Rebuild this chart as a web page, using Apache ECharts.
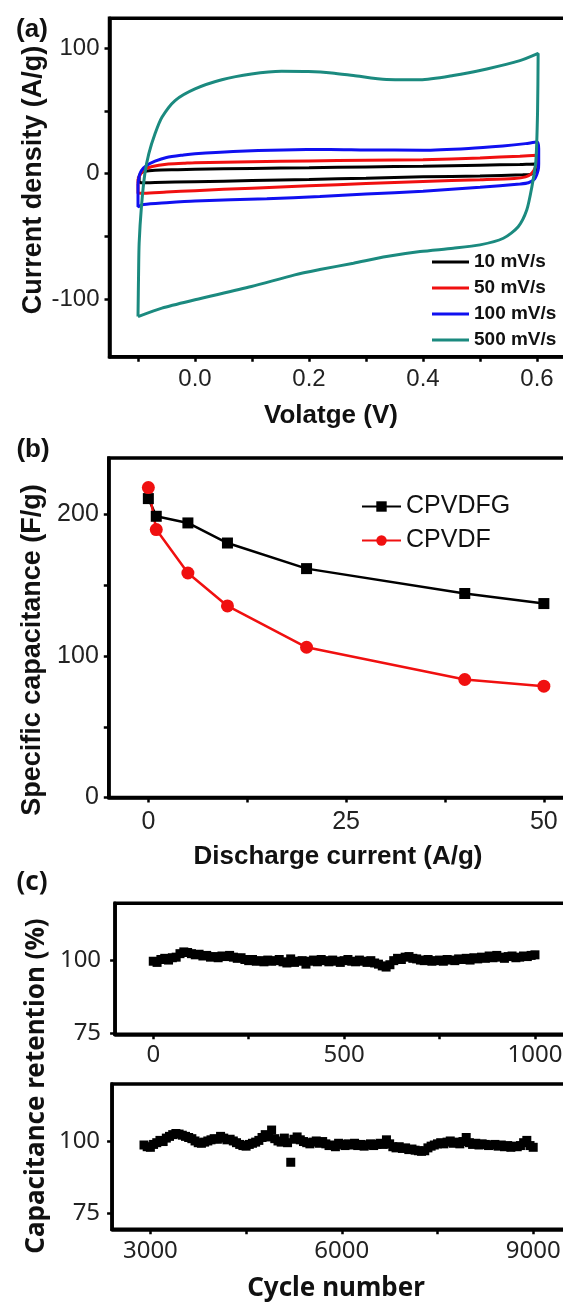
<!DOCTYPE html>
<html><head><meta charset="utf-8">
<script src="https://cdn.jsdelivr.net/npm/echarts@6/dist/echarts.min.js"></script>
<style>html,body{margin:0;padding:0;background:#fff}#c{width:563px;height:1304px}</style>
</head><body><div id="c"></div>
<script>
// ---------- Panel (a): CV curves [voltage (V), current density (A/g)] ----------
const cvNames = ['10 mV/s', '50 mV/s', '100 mV/s', '500 mV/s'];
const cv10 = [[-0.098,-2],[-0.095,0.5],[-0.088,2.0],[-0.07,2.8],[-0.03,3.2],[0.0,3.5],[0.1,4.2],[0.2,4.8],[0.3,5.4],[0.4,6.0],[0.5,6.8],[0.57,7.4],[0.598,7.8],
  [0.6,5.5],[0.598,2.0],[0.59,-0.3],[0.575,-0.9],[0.5,-1.8],[0.4,-2.5],[0.3,-3.6],[0.2,-4.6],[0.1,-5.5],[0.0,-6.4],[-0.07,-7.0],[-0.094,-7.3],[-0.098,-6],[-0.098,-2]];
const cv50 = [[-0.1,-4],[-0.095,0],[-0.088,3.5],[-0.075,5.8],[-0.05,7.6],[-0.02,8.3],[0.0,8.8],[0.1,9.5],[0.2,10.2],[0.3,10.8],[0.4,11.2],[0.5,12.6],[0.57,14.0],[0.6,14.8],
  [0.6,12],[0.598,6],[0.59,0],[0.58,-2.5],[0.56,-3.8],[0.5,-4.8],[0.4,-6.2],[0.3,-7.9],[0.2,-9.6],[0.1,-11.5],[0.0,-13.5],[-0.05,-14.6],[-0.09,-15.6],[-0.1,-15.5],[-0.1,-4]];
const cv100 = [[-0.1,-8],[-0.098,-2],[-0.094,2.5],[-0.085,6.5],[-0.07,10],[-0.05,13],[-0.02,15],[0.0,16],[0.067,17.8],[0.155,19.0],[0.237,19.4],[0.3,19.0],[0.4,18.8],[0.48,20.2],[0.54,22.2],[0.58,24.0],[0.6,25.3],
  [0.603,20],[0.603,8],[0.602,2.8],[0.596,-4],[0.585,-7.2],[0.57,-8.2],[0.5,-10.8],[0.4,-14.0],[0.3,-16.2],[0.219,-18.2],[0.126,-19.9],[0.0,-21.8],[-0.05,-23.2],[-0.09,-24.6],[-0.1,-26.4],[-0.1,-8]];
const cv500 = [[-0.1,-114],[-0.099,-80],[-0.098,-55.5],[-0.094,-26.4],[-0.088,0],[-0.081,16],[-0.07,32],[-0.058,45],[-0.035,58.4],[0,67.7],[0.047,75],[0.099,79.6],[0.152,81.7],[0.199,81.5],[0.24,80.4],[0.278,78.3],[0.336,75.1],[0.395,74.9],[0.453,78.3],[0.512,83.6],[0.57,90.2],[0.602,96],
  [0.601,50],[0.598,10],[0.591,-10.5],[0.582,-29],[0.567,-42.3],[0.541,-51.5],[0.5,-56.8],[0.453,-59.5],[0.395,-62.1],[0.336,-66.1],[0.278,-71.4],[0.219,-76.5],[0.175,-80.7],[0.099,-90],[0.0,-100.6],[-0.058,-107.2],[-0.1,-114]];
const cvColors = ['#000000', '#f01010', '#1010f0', '#1b8a7f'];
const aXTicks = [-0.1, 0, 0.1, 0.2, 0.3, 0.4, 0.5, 0.6];
const aXLabels = [0, 0.2, 0.4, 0.6];
const aYTicks = [-100, -50, 0, 50, 100];
const aYLabels = [-100, 0, 100];

// ---------- Panel (b): rate capability ----------
const rateCurrent = [0, 1, 5, 10, 20, 40, 50];
const capCPVDFG = [211.3, 198.8, 194.1, 179.9, 161.8, 144.2, 137.1];
const capCPVDF  = [219.1, 189.4, 158.7, 135.4, 106.2, 83.4, 78.7];
const bXTicks = [0, 12.5, 25, 37.5, 50];
const bXLabels = [0, 25, 50];
const bYTicks = [0, 50, 100, 150, 200];
const bYLabels = [0, 100, 200];

// ---------- Panel (c): cycling stability ----------
const topCycleStart = 0, topCycleStep = 10;
const retTop = [
  99.6, 99.2, 100.2, 100.6, 100.0, 100.8, 101.0, 102.2, 102.8, 102.6,
  102.2, 101.8, 102.0, 101.4, 101.6, 101.0, 101.2, 100.8, 101.4, 101.2,
  101.6, 101.0, 100.6, 100.8, 100.2, 99.8, 100.2, 99.6, 99.8, 99.4,
  100.0, 99.6, 99.8, 100.2, 99.4, 99.0, 100.4, 99.2, 99.6, 99.8,
  98.6, 99.6, 100.0, 99.4, 100.2, 99.8, 99.4, 100.0, 99.6, 99.2,
  99.8, 100.2, 99.6, 99.4, 100.0, 99.6, 99.2, 99.8, 99.0, 98.6,
  98.0, 97.6, 98.4, 99.8, 100.6, 100.2, 101.0, 101.2, 100.6, 100.4,
  100.0, 99.8, 100.2, 99.6, 99.8, 100.0, 99.6, 100.2, 100.0, 99.8,
  100.4, 100.2, 100.6, 100.0, 100.8, 100.4, 101.0, 100.6, 101.4, 100.8,
  101.6, 101.0, 100.6, 101.2, 101.4, 100.8, 101.0, 101.4, 101.2, 101.6,
  101.8];
const botCycleStart = 2900, botCycleStep = 50;
const retBottom = [
  98.8, 98.2, 98.0, 99.0, 99.6, 100.4, 100.0, 101.2, 101.8, 102.4,
  102.8, 102.6, 102.2, 101.8, 101.4, 101.0, 100.2, 99.6, 99.4, 99.8,
  100.2, 100.6, 101.0, 100.8, 101.8, 101.2, 100.6, 100.8, 100.2, 99.6,
  99.0, 98.6, 98.4, 99.0, 99.4, 99.8, 100.4, 101.4, 102.4, 101.6,
  104.0, 101.0, 100.2, 99.8, 101.2, 99.6, 92.8, 100.8, 101.6, 100.6,
  100.0, 99.6, 99.2, 99.8, 100.2, 99.4, 100.0, 99.2, 98.6, 98.8,
  98.2, 99.4, 99.0, 98.6, 99.2, 98.8, 99.4, 98.6, 99.0, 98.4,
  98.8, 99.2, 98.6, 99.0, 99.4, 99.0, 100.6, 99.2, 98.2, 97.8,
  98.2, 97.6, 97.8, 97.2, 97.4, 97.0, 96.8, 96.6, 96.8, 97.8,
  98.4, 98.8, 99.2, 99.6, 99.2, 99.8, 100.2, 99.4, 99.8, 99.2,
  100.0, 101.4, 99.6, 99.0, 99.4, 98.8, 99.2, 99.0, 98.6, 98.8,
  99.0, 98.4, 98.8, 98.2, 98.6, 98.0, 98.4, 98.2, 98.6, 99.6,
  100.4, 98.6, 98.0];
const cTopXTicks = [0, 250, 500, 750, 1000];
const cTopXLabels = [0, 500, 1000];
const cBotXTicks = [3000, 4500, 6000, 7500, 9000];
const cBotXLabels = [3000, 6000, 9000];
const cYTicks = [75, 100];

// ---------- build ----------
const ARIAL = 'Liberation Sans, Arial, sans-serif';
const NOTO = 'Noto Sans, Open Sans, sans-serif';
const LW = 3.5;

function mkAxis(opts) {
  const { gridIndex, min, max, ticks, labels, pos, font, size, margin, fmt } = opts;
  return {
    type: 'value', gridIndex, min, max, position: pos,
    splitLine: { show: false },
    axisLine: { show: true, onZero: false, lineStyle: { color: '#000', width: LW } },
    axisTick: { show: true, inside: false, length: 5, customValues: ticks, lineStyle: { color: '#000', width: 2.5 } },
    axisLabel: { show: true, customValues: labels, margin, fontFamily: font, fontSize: size, color: '#222',
      formatter: fmt || (v => String(v)) },
    minorTick: { show: false }
  };
}

const grids = [
  { left: 109.5, top: 18.3, width: 456, height: 338.4 },
  { left: 108.8, top: 458, width: 458.8, height: 339.5 },
  { left: 115.1, top: 903.3, width: 450.4, height: 131 },
  { left: 112.1, top: 1084, width: 453, height: 145.3 }
].map(g => Object.assign(g, { show: true, borderColor: '#000', borderWidth: LW, backgroundColor: 'transparent', containLabel: false, outerBoundsMode: 'none' }));

const xAxes = [
  mkAxis({ gridIndex: 0, min: -0.15, max: 0.65, ticks: aXTicks, labels: aXLabels, pos: 'bottom', font: ARIAL, size: 24, margin: 11, fmt: v => v.toFixed(1) }),
  mkAxis({ gridIndex: 1, min: -5, max: 53, ticks: bXTicks, labels: bXLabels, pos: 'bottom', font: ARIAL, size: 25, margin: 12 }),
  mkAxis({ gridIndex: 2, min: -100, max: 1080, ticks: cTopXTicks, labels: cTopXLabels, pos: 'bottom', font: NOTO, size: 24, margin: 9 }),
  mkAxis({ gridIndex: 3, min: 2400, max: 9500, ticks: cBotXTicks, labels: cBotXLabels, pos: 'bottom', font: NOTO, size: 24, margin: 10 })
];
const yAxes = [
  mkAxis({ gridIndex: 0, min: -146, max: 124, ticks: aYTicks, labels: aYLabels, pos: 'left', font: ARIAL, size: 24, margin: 10 }),
  mkAxis({ gridIndex: 1, min: 0, max: 240, ticks: bYTicks, labels: bYLabels, pos: 'left', font: ARIAL, size: 25, margin: 10 }),
  mkAxis({ gridIndex: 2, min: 74.5, max: 119.5, ticks: cYTicks, labels: cYTicks, pos: 'left', font: NOTO, size: 24, margin: 14 }),
  mkAxis({ gridIndex: 3, min: 69.5, max: 120, ticks: cYTicks, labels: cYTicks, pos: 'left', font: NOTO, size: 24, margin: 12 })
];

const cvData = [cv10, cv50, cv100, cv500];
const series = [];
cvData.forEach((d, i) => series.push({
  name: cvNames[i], type: 'line', xAxisIndex: 0, yAxisIndex: 0, data: d,
  showSymbol: false, symbol: 'none', smooth: 0.25, clip: true,
  lineStyle: { color: cvColors[i], width: 3 }, itemStyle: { color: cvColors[i] },
  z: i === 3 ? 3 : 2
}));
series.push({
  name: 'CPVDFG', type: 'line', xAxisIndex: 1, yAxisIndex: 1,
  data: rateCurrent.map((x, i) => [x, capCPVDFG[i]]),
  symbol: 'rect', symbolSize: 11, lineStyle: { color: '#000', width: 2.5 }, itemStyle: { color: '#000' }
});
series.push({
  name: 'CPVDF', type: 'line', xAxisIndex: 1, yAxisIndex: 1,
  data: rateCurrent.map((x, i) => [x, capCPVDF[i]]),
  symbol: 'circle', symbolSize: 13, lineStyle: { color: '#f01010', width: 2.5 }, itemStyle: { color: '#f01010' }
});
series.push({
  name: 'retTop', type: 'scatter', xAxisIndex: 2, yAxisIndex: 2,
  data: retTop.map((v, i) => [topCycleStart + i * topCycleStep, v]),
  symbol: 'rect', symbolSize: 9, itemStyle: { color: '#000', opacity: 1 }
});
series.push({
  name: 'retBottom', type: 'scatter', xAxisIndex: 3, yAxisIndex: 3,
  data: retBottom.map((v, i) => [botCycleStart + i * botCycleStep, v]),
  symbol: 'rect', symbolSize: 9, itemStyle: { color: '#000', opacity: 1 }
});

function txt(text, x, y, font, size, rot) {
  return { type: 'text', x, y, rotation: rot || 0, z: 100,
    style: { text, fontFamily: font, fontSize: size, fontWeight: 'bold', fill: '#111', align: 'center', verticalAlign: 'middle' } };
}

const option = {
  animation: false,
  backgroundColor: '#fff',
  grid: grids, xAxis: xAxes, yAxis: yAxes, series,
  legend: [
    { data: cvNames.map(n => ({ name: n, icon: 'rect' })), orient: 'vertical', left: 427, top: 247.5, itemWidth: 37, itemHeight: 3, itemGap: 7,
      selectedMode: false, textStyle: { fontFamily: ARIAL, fontWeight: 'bold', fontSize: 19, color: '#111' } },
    { data: ['CPVDFG', 'CPVDF'], orient: 'vertical', left: 356, top: 489, itemWidth: 39, itemHeight: 13, itemGap: 9,
      selectedMode: false, textStyle: { fontFamily: ARIAL, fontSize: 25, color: '#111' } }
  ],
  graphic: [
    txt('(a)', 32, 30, ARIAL, 26),
    txt('Current density (A/g)', 34, 180, ARIAL, 27, Math.PI / 2),
    txt('Volatge (V)', 331, 416, ARIAL, 26),
    txt('(b)', 33, 450, ARIAL, 26),
    txt('Specific capacitance (F/g)', 33, 650, ARIAL, 27, Math.PI / 2),
    txt('Discharge current (A/g)', 338, 857, ARIAL, 26),
    txt('(c)', 32, 883, NOTO, 26),
    txt('Capacitance retention (%)', 37, 1086, NOTO, 26, Math.PI / 2),
    txt('Cycle number', 336, 1289, NOTO, 26)
  ]
};
const chart = echarts.init(document.getElementById('c'), null, { renderer: 'canvas' });
chart.setOption(option);
</script></body></html>
